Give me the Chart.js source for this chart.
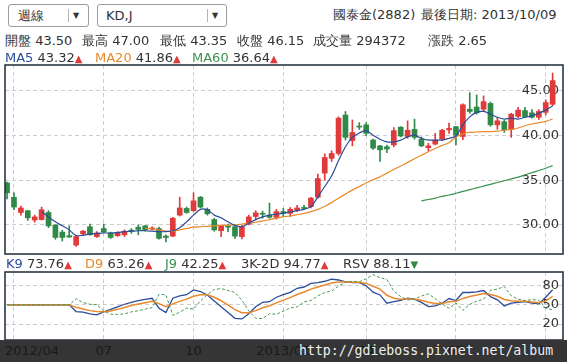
<!DOCTYPE html>
<html>
<head>
<meta charset="utf-8">
<script src="https://cdn.jsdelivr.net/npm/chart.js@4.4.1/dist/chart.umd.min.js"></script>
<style>
  body { margin: 0; background: #fff; }
  #wrap { position: relative; width: 567px; height: 362px; overflow: hidden;
          font-family: 'DejaVu Sans', Verdana, sans-serif; font-size: 13px; color: #333; }
  .t { position: absolute; white-space: nowrap; line-height: 16px; z-index: 3; }
  .sel { position: absolute; top: 4px; height: 23px; box-sizing: border-box; border: 1px solid #9c9c9c;
         border-radius: 3px; background: #fff; }
  .sel .tx { position: absolute; top: 3px; line-height: 16px; }
  .sel .sp { position: absolute; top: 4px; width: 1px; height: 13px; background: #b4b4b4; }
  .sel .ar { position: absolute; top: 5px; font-size: 8px; line-height: 12px; color: #333; }
  canvas { position: absolute; left: 0; }
  .blue { color: #2b4c9b; } .orange { color: #e8892b; } .green { color: #3d9150; }
  .up { color: #e03a3a; font-size: 10px; } .dn { color: #2f8a48; font-size: 10px; }
  #band { position: absolute; left: 0; top: 340px; width: 567px; height: 22px; background: #353535; z-index: 4; }
  #band span { position: absolute; top: 3px; line-height: 16px; color: #1a1a1a; white-space: nowrap; }
  #wm { position: absolute; left: 299px; top: 342px; z-index: 5; color: #f0f0f0; white-space: nowrap;
        font-family: 'DejaVu Sans Mono', monospace; font-size: 13.2px; line-height: 18px; }
</style>
</head>
<body>
<div id="wrap">
  <div class="sel" style="left:8px;width:81px">
    <span class="tx" style="left:9px">週線</span><i class="sp" style="left:59px"></i><b class="ar" style="left:64px">▼</b>
  </div>
  <div class="sel" style="left:97px;width:130px">
    <span class="tx" style="left:8px">KD,J</span><i class="sp" style="left:109px"></i><b class="ar" style="left:114px">▼</b>
  </div>
  <div class="t" style="left:333px;top:7px">國泰金(2882)</div>
  <div class="t" style="left:421px;top:7px">最後日期: 2013/10/09</div>

  <div class="t" style="left:5px;top:33px">開盤 43.50</div>
  <div class="t" style="left:82px;top:33px">最高 47.00</div>
  <div class="t" style="left:160px;top:33px">最低 43.35</div>
  <div class="t" style="left:237px;top:33px">收盤 46.15</div>
  <div class="t" style="left:313px;top:33px">成交量 294372</div>
  <div class="t" style="left:428px;top:33px">漲跌 2.65</div>

  <div class="t" style="left:5px;top:50px"><span class="blue">MA5</span> 43.32<span class="up">▲</span></div>
  <div class="t" style="left:95px;top:50px"><span class="orange">MA20</span> 41.86<span class="up">▲</span></div>
  <div class="t" style="left:192px;top:50px"><span class="green">MA60</span> 36.64<span class="up">▲</span></div>

  <canvas id="main" width="567" height="200" style="top:60px"></canvas>

  <div class="t" style="left:6px;top:256px"><span class="blue">K9</span> 73.76<span class="up">▲</span></div>
  <div class="t" style="left:85px;top:256px"><span class="orange">D9</span> 63.26<span class="up">▲</span></div>
  <div class="t" style="left:165px;top:256px"><span class="green">J9</span> 42.25<span class="up">▲</span></div>
  <div class="t" style="left:241px;top:256px">3K-2D 94.77<span class="up">▲</span></div>
  <div class="t" style="left:343px;top:256px">RSV 88.11<span class="dn">▼</span></div>

  <canvas id="kd" width="567" height="80" style="top:266px"></canvas>

  <div id="band"></div>
  <div id="wm">http://gdieboss.pixnet.net/album</div>
</div>

<script>
// weekly candles, index 0 = last week of 2012/03, index 79 = week of 2013/10/09
const opens = [
  34.7, 33.1, 31.4, 31.6, 30.55, 30.6, 31.4, 30.0, 29.2, 28.8,
  27.75, 29.0, 29.8, 28.7, 29.6, 29.1, 28.8, 28.9, 29.4, 29.75,
  29.9, 29.55, 29.6, 28.75, 28.75, 31.1, 31.85, 31.6, 33.1, 31.75,
  30.6, 29.35, 29.85, 29.8, 28.7, 30.1, 30.95, 31.3, 31.1, 30.85,
  31.5, 31.3, 31.65, 31.95, 32.05, 33.1, 35.8, 37.45, 38.0, 42.3,
  39.45, 41.05, 41.2, 39.5, 38.85, 38.75, 38.95, 40.95, 39.9, 40.7,
  39.6, 38.65, 39.05, 39.6, 40.65, 41.0, 39.9, 42.95, 43.2, 42.95,
  43.6, 41.2, 41.55, 40.7, 42.15, 42.8, 42.55, 42.05, 42.6, 43.5
];
const highs = [
  34.8, 33.6, 32.1, 31.6, 31.1, 32.0, 31.6, 30.0, 29.4, 29.9,
  28.8, 29.4, 30.1, 29.25, 30.1, 29.2, 29.25, 29.45, 29.6, 30.0,
  29.95, 29.8, 29.75, 28.9, 30.85, 33.1, 32.0, 33.6, 33.2, 31.9,
  30.75, 30.0, 30.1, 29.95, 29.95, 31.1, 31.6, 31.55, 32.45, 31.75,
  31.85, 31.95, 32.2, 32.2, 33.1, 35.7, 37.95, 38.3, 42.1, 42.7,
  41.75, 41.45, 41.45, 39.6, 38.9, 38.95, 40.9, 41.0, 41.65, 41.85,
  39.85, 39.15, 40.25, 40.7, 41.4, 41.05, 43.55, 44.8, 44.55, 44.45,
  43.75, 42.05, 41.7, 42.5, 43.15, 43.15, 42.9, 42.9, 44.0, 47.0
];
const lows = [
  32.9, 31.7, 31.1, 30.5, 30.3, 30.55, 29.7, 28.4, 28.2, 28.6,
  27.6, 28.8, 28.85, 28.6, 29.15, 28.5, 28.7, 28.7, 29.05, 28.9,
  29.3, 29.45, 28.4, 28.1, 28.7, 31.0, 31.3, 31.5, 31.9, 31.1,
  29.3, 28.7, 29.25, 28.5, 28.45, 30.0, 30.65, 30.75, 30.75, 30.65,
  30.95, 30.95, 31.5, 31.7, 31.9, 33.0, 35.0, 37.1, 37.8, 39.5,
  38.85, 40.7, 40.0, 38.45, 37.1, 38.1, 38.75, 39.85, 39.7, 39.6,
  38.75, 38.3, 38.95, 39.45, 40.25, 38.95, 39.55, 42.5, 42.4, 42.7,
  41.05, 40.7, 40.35, 39.8, 42.0, 42.0, 41.95, 41.8, 42.3, 43.35
];
const closes = [
  33.6, 32.0, 31.9, 30.8, 30.9, 31.7, 29.9, 28.6, 28.6, 28.65,
  28.7, 29.3, 28.9, 29.1, 29.2, 28.6, 29.15, 29.3, 29.3, 29.5,
  29.45, 29.65, 28.5, 28.6, 30.75, 31.9, 31.4, 32.7, 32.0, 31.25,
  29.45, 29.85, 29.75, 28.75, 29.8, 30.9, 31.35, 31.2, 30.85, 31.5,
  31.3, 31.75, 31.9, 31.85, 33.0, 35.2, 37.55, 38.0, 41.95, 39.8,
  40.35, 40.95, 40.25, 38.6, 38.4, 38.5, 40.55, 39.95, 40.6, 39.8,
  38.85, 38.85, 39.5, 40.6, 40.8, 40.05, 43.45, 42.7, 42.55, 43.8,
  41.2, 41.65, 40.65, 42.4, 42.85, 42.1, 42.05, 42.7, 43.7, 46.15
];

const ma5 = [
  null, null, null, null, null, 31.5, 30.9, 30.35, 29.9, 29.45,
  28.8, 28.85, 29.0, 29.05, 29.1, 29.1, 29.15, 29.25, 29.3, 29.35,
  29.35, 29.3, 29.25, 29.25, 29.35, 29.7, 30.35, 31.1, 31.75, 31.7,
  31.1, 30.8, 30.35, 29.95, 29.8, 30.2, 30.6, 30.9, 31.1, 31.2,
  31.3, 31.45, 31.6, 31.75, 32.05, 33.15, 34.3, 35.5, 37.2, 38.75,
  39.8, 40.3, 40.55, 40.05, 39.6, 39.3, 39.3, 39.5, 39.85, 40.05,
  39.7, 39.5, 39.5, 39.5, 39.7, 39.95, 41.2, 42.1, 42.6, 42.7,
  42.4, 42.05, 41.85, 41.95, 41.85, 42.05, 42.2, 42.5, 42.85, 43.32
];
const ma20 = [
  null, null, null, null, null, null, null, null, null, null,
  null, null, null, null, null, null, null, null, null, null,
  29.65, 29.55, 29.45, 29.3, 29.3, 29.45, 29.6, 29.75, 29.8, 29.85,
  29.9, 29.95, 29.98, 30.0, 30.1, 30.2, 30.3, 30.45, 30.6, 30.75,
  30.9, 31.0, 31.15, 31.3, 31.5, 31.75, 32.1, 32.5, 33.0, 33.45,
  33.9, 34.3, 34.7, 35.05, 35.4, 35.8, 36.2, 36.6, 37.0, 37.4,
  37.8, 38.2, 38.55, 38.9, 39.2, 39.85, 40.2, 40.35, 40.4, 40.45,
  40.45, 40.5, 40.6, 40.7, 40.85, 41.1, 41.3, 41.45, 41.6, 41.86
];
const ma60 = [
  null, null, null, null, null, null, null, null, null, null,
  null, null, null, null, null, null, null, null, null, null,
  null, null, null, null, null, null, null, null, null, null,
  null, null, null, null, null, null, null, null, null, null,
  null, null, null, null, null, null, null, null, null, null,
  null, null, null, null, null, null, null, null, null, null,
  32.7, 32.85, 33.0, 33.2, 33.35, 33.55, 33.75, 33.95, 34.15, 34.35,
  34.55, 34.75, 34.95, 35.15, 35.35, 35.6, 35.85, 36.1, 36.35, 36.64
];

const kLine = [
  50, 50, 50, 50, 50, 50, 50, 50, 50, 50,
  39.6, 38.5, 36, 34.3, 39, 43, 47, 51, 54, 56.8,
  58.5, 60.4, 44.8, 38, 60.4, 64, 66, 73.5, 70.9, 65.6,
  56, 47, 38, 29, 28, 36, 47, 54, 55, 62,
  66, 69.5, 76, 78, 83.7, 85, 87, 90.4, 89, 86,
  85, 85, 80, 70, 65.6, 52.6, 55, 57, 60.4, 59,
  54, 47.4, 48.4, 52.6, 59.9, 56.8, 69.4, 69.4, 70.5, 72.5,
  63, 57.9, 48.4, 52.6, 54, 55, 52.6, 51.6, 62, 73.76
];
const dLine = [
  50, 50, 50, 50, 50, 50, 50, 50, 50, 50,
  46.3, 43.5, 41, 39.6, 39.4, 40.5, 43, 46, 49, 51.5,
  53.5, 55.5, 52, 47.3, 51.5, 55.5, 59, 63.5, 66, 65.8,
  62, 56.5, 49.5, 42.5, 37.8, 37.5, 41, 45.5, 48.7, 53.1,
  57.4, 61.4, 66.3, 70.2, 74.7, 78.1, 81.1, 84.2, 85.8, 85.9,
  85.6, 85.4, 83.6, 79.1, 74.6, 65, 60.5, 59, 59.5, 59,
  57.3, 54, 52.2, 52.3, 54.8, 55.5, 60.1, 63.2, 65.6, 67.9,
  66.3, 63.5, 58.5, 56.5, 55.7, 55.5, 54.5, 53.5, 56.3, 63.26
];
const jLine = [
  50, 50, 50, 50, 50, 50, 50, 50, 50, 50,
  59.7, 53.5, 51, 50.2, 40.2, 35.5, 35, 36, 39, 40.9,
  43.5, 45.7, 66.4, 65.9, 33.7, 38.5, 45, 43.5, 56.2, 66.2,
  74, 75.5, 72.5, 69.5, 57.4, 40.5, 29, 28.5, 36.1, 35.3,
  40.2, 45.2, 46.9, 54.6, 56.7, 64.3, 69.3, 71.8, 79.4, 85.7,
  86.8, 86.2, 90.8, 97.3, 92.6, 89.8, 71.5, 63, 57.7, 59,
  63.9, 67.2, 59.8, 51.7, 44.6, 52.9, 41.5, 50.8, 55.8, 58.7,
  72.9, 74.7, 78.7, 64.3, 59.1, 56.5, 58.3, 57.3, 44.9, 42.25
];

// month marks on the week index axis
const tickIdx = [1, 14, 27, 40, 52, 65, 78];
const tickLabels = ['2012/04', '07', '10', '2013/01', '04', '07', '10'];
const priceTicks = [30, 35, 40, 45];
const kdTicks = [20, 50, 80];

const FONT = "'DejaVu Sans', Verdana, sans-serif";
const RED = '#e03a3a', GREEN = '#2f8a48';
const GRID = '#cdcdcd';

const pts = arr => arr.map((v, i) => ({ x: i, y: v }));
const candleColors = opens.map((o, i) => closes[i] >= o ? RED : GREEN);

// dark frame around each panel
const frame = {
  id: 'frame',
  afterDraw(chart) {
    const { ctx, chartArea: a } = chart;
    ctx.save();
    ctx.strokeStyle = '#1d2a38';
    ctx.lineWidth = 1.5;
    ctx.strokeRect(a.left, a.top, a.right - a.left, a.bottom - a.top);
    ctx.restore();
  }
};

function xAxis() {
  return {
    type: 'linear', min: -0.3, max: 80.5, offset: false,
    afterBuildTicks: s => { s.ticks = tickIdx.map(v => ({ value: v })); },
    afterFit: s => { s.height = 0; },
    ticks: { display: false },
    grid: { color: GRID, drawTicks: false, offset: false },
    border: { display: false, dash: [4, 3] }
  };
}

function yAxis(min, max, ticks, fmt) {
  return {
    position: 'right', min: min, max: max,
    afterBuildTicks: s => { s.ticks = ticks.map(v => ({ value: v })); },
    afterFit: s => { s.width = 0; },
    ticks: { mirror: true, padding: -4, color: '#333', font: { family: FONT, size: 13 }, callback: fmt },
    grid: { color: GRID, drawTicks: false },
    border: { display: false, dash: [4, 3] }
  };
}

Chart.defaults.font.family = FONT;

new Chart(document.getElementById('main'), {
  type: 'bar',
  data: {
    datasets: [
      { type: 'line', label: 'MA5', data: pts(ma5), borderColor: '#2b4c9b', borderWidth: 1.2,
        pointRadius: 0, tension: 0.3, order: 0 },
      { type: 'line', label: 'MA20', data: pts(ma20), borderColor: '#e8892b', borderWidth: 1.2,
        pointRadius: 0, tension: 0.3, order: 0 },
      { type: 'line', label: 'MA60', data: pts(ma60), borderColor: '#3d9150', borderWidth: 1.2,
        pointRadius: 0, tension: 0.3, order: 0 },
      { label: 'body', data: opens.map((o, i) => ({ x: i, y: [o, closes[i]] })),
        backgroundColor: candleColors, barThickness: 5, minBarLength: 1, grouped: false, order: 1 },
      { label: 'wick', data: lows.map((l, i) => ({ x: i, y: [l, highs[i]] })),
        backgroundColor: candleColors, barThickness: 1, grouped: false, order: 2 }
    ]
  },
  options: {
    responsive: false, animation: false,
    layout: { padding: { left: 5, right: 4, top: 5, bottom: 6 } },
    plugins: { legend: { display: false }, tooltip: { enabled: false } },
    scales: {
      x: xAxis(),
      y: yAxis(26.75, 47.9, priceTicks, v => v.toFixed(2))
    }
  },
  plugins: [frame]
});

new Chart(document.getElementById('kd'), {
  type: 'line',
  data: {
    datasets: [
      { label: 'J9', data: pts(jLine), borderColor: '#4b9a55', borderWidth: 1, borderDash: [3, 2],
        pointRadius: 0, tension: 0 },
      { label: 'D9', data: pts(dLine), borderColor: '#e8892b', borderWidth: 1.5, pointRadius: 0, tension: 0 },
      { label: 'K9', data: pts(kLine), borderColor: '#2b4c9b', borderWidth: 1.3, pointRadius: 0, tension: 0 }
    ]
  },
  options: {
    responsive: false, animation: false,
    layout: { padding: { left: 5, right: 4, top: 6, bottom: 6 } },
    plugins: { legend: { display: false }, tooltip: { enabled: false } },
    scales: {
      x: xAxis(),
      y: yAxis(-5, 101.5, kdTicks, v => String(v))
    }
  },
  plugins: [frame]
});

// date labels in the bottom strip
const band = document.getElementById('band');
tickIdx.forEach((idx, k) => {
  const s = document.createElement('span');
  s.textContent = tickLabels[k];
  const cx = 7 + 6.907 * idx;
  if (k === 0) s.style.left = '5px';
  else { s.style.left = cx + 'px'; s.style.transform = 'translateX(-50%)'; }
  band.appendChild(s);
});
</script>
</body>
</html>
